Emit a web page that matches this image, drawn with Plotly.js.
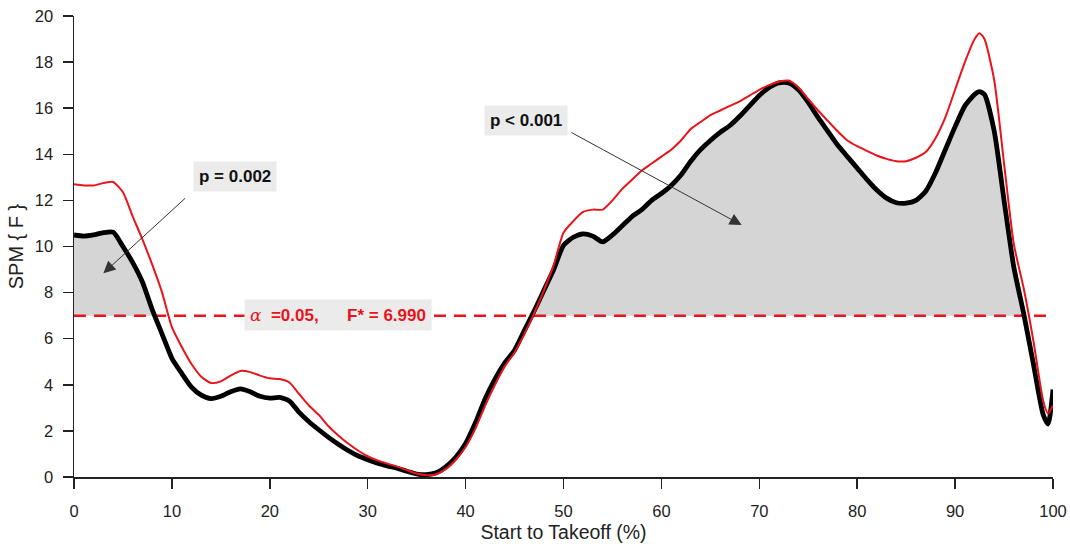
<!DOCTYPE html>
<html>
<head>
<meta charset="utf-8">
<script src="https://cdn.plot.ly/plotly-3.0.1.min.js"></script>
<style>html,body{margin:0;padding:0;background:#fff;}#chart{width:1070px;height:544px;}</style>
</head>
<body>
<div id="chart"></div>
<script>
// Time normalised, start to takeoff (%)
const xPct = [0,1,2,3,4,5,6,7,8,9,10,11,12,13,14,15,16,17,18,19,20,21,22,23,24,25,26,27,28,29,30,31,32,33,34,35,36,37,38,39,40,41,42,43,44,45,46,47,48,49,50,51,52,53,54,55,56,57,58,59,60,61,62,63,64,65,66,67,68,69,70,71,72,73,74,75,76,77,78,79,80,81,82,83,84,85,86,87,88,89,90,91,92,92.5,93,94,95,96,97,98,99,99.5,100];
// SPM{F} statistic (thick black)
const spmF = [10.5,10.45,10.5,10.6,10.62,10.0,9.3,8.45,7.25,6.2,5.15,4.5,3.9,3.55,3.4,3.5,3.7,3.82,3.7,3.5,3.42,3.45,3.3,2.8,2.4,2.05,1.72,1.42,1.15,0.92,0.75,0.6,0.48,0.38,0.25,0.13,0.1,0.18,0.45,0.85,1.45,2.35,3.4,4.25,4.95,5.5,6.35,7.2,8.1,9.0,10.05,10.4,10.55,10.45,10.2,10.5,10.9,11.3,11.6,12.0,12.3,12.65,13.1,13.7,14.2,14.6,14.95,15.25,15.65,16.1,16.55,16.9,17.1,17.1,16.8,16.25,15.6,15.0,14.4,13.9,13.4,12.9,12.45,12.1,11.9,11.88,12.0,12.4,13.2,14.2,15.2,16.1,16.6,16.72,16.6,15.0,12.0,9.1,7.1,4.9,2.7,2.3,3.8];
// Red curve
const spmRed = [12.7,12.65,12.65,12.75,12.8,12.35,11.3,10.3,9.2,8.0,6.5,5.65,4.9,4.35,4.08,4.15,4.4,4.6,4.55,4.4,4.28,4.25,4.1,3.6,3.1,2.7,2.2,1.8,1.45,1.15,0.9,0.72,0.58,0.45,0.3,0.15,0.08,0.12,0.35,0.75,1.3,2.1,3.1,4.0,4.8,5.4,6.2,7.1,8.1,9.2,10.6,11.1,11.5,11.6,11.6,12.0,12.5,12.9,13.3,13.6,13.9,14.2,14.6,15.1,15.4,15.7,15.9,16.1,16.3,16.55,16.8,17.0,17.15,17.2,16.9,16.4,15.9,15.45,15.0,14.6,14.35,14.15,13.95,13.8,13.7,13.7,13.85,14.1,14.7,15.6,16.8,18.0,19.0,19.25,19.0,17.2,13.6,10.1,8.2,5.9,3.3,2.76,3.1];
// Critical threshold
const alphaLevel = 0.05;
const fCrit = 6.990;
const thrY = 7;
const xTicks = [0,10,20,30,40,50,60,70,80,90,100];
const yTicks = [0,2,4,6,8,10,12,14,16,18,20];

// supra-threshold clusters (polygons built from spmF and threshold)
function clusters(xs, ys, t) {
  const out = [];
  let cur = null;
  for (let i = 0; i < xs.length; i++) {
    const above = ys[i] > t;
    if (i > 0) {
      const pa = ys[i-1] > t;
      if (pa !== above) {
        const xc = xs[i-1] + (t - ys[i-1]) * (xs[i] - xs[i-1]) / (ys[i] - ys[i-1]);
        if (above) { cur = {x:[xc], y:[t]}; }
        else { cur.x.push(xc); cur.y.push(t); out.push(cur); cur = null; }
      }
    } else if (above) { cur = {x:[xs[0]], y:[t]}; }
    if (above) { cur.x.push(xs[i]); cur.y.push(ys[i]); }
  }
  if (cur) { cur.x.push(xs[xs.length-1]); cur.y.push(t); out.push(cur); }
  return out;
}
const traces = [];
clusters(xPct, spmF, thrY).forEach(c => {
  traces.push({x:c.x, y:c.y, mode:'lines', fill:'toself', fillcolor:'#d5d5d5',
    line:{width:0, color:'rgba(0,0,0,0)'}, hoverinfo:'skip', showlegend:false});
});
traces.push({x:[xPct[0], xPct[xPct.length-1]], y:[thrY, thrY], mode:'lines',
  line:{color:'#e8141b', width:2.5, dash:'12px,8px'}, showlegend:false});
traces.push({x:xPct, y:spmF, mode:'lines', line:{color:'#000', width:4.8, shape:'spline', smoothing:0.6}, showlegend:false});
traces.push({x:xPct, y:spmRed, mode:'lines', line:{color:'#e8141b', width:2, shape:'spline', smoothing:0.6}, showlegend:false});

const font = 'Arial, "Liberation Sans", sans-serif';
const boxStyle = {bgcolor:'#ebebeb', borderpad:5, showarrow:false, xanchor:'center', yanchor:'middle'};
const layout = {
  width:1070, height:544,
  margin:{l:74, r:17, t:16, b:67},
  paper_bgcolor:'#fff', plot_bgcolor:'#fff',
  font:{family:font, color:'#222'},
  xaxis:{range:[0,100], tickvals:xTicks, ticktext:xTicks.map(String), showgrid:false, zeroline:false,
    showline:true, linecolor:'#222', linewidth:1.5, ticks:'outside', ticklen:10, tickwidth:1.5, tickcolor:'#222',
    ticklabelstandoff:9,
    tickfont:{size:16.5, color:'#222'}, title:{text:'Start to Takeoff (%)', font:{size:19.5, color:'#222'}, standoff:6}},
  yaxis:{range:[0,20], tickvals:yTicks, ticktext:yTicks.map(String), showgrid:false, zeroline:false,
    showline:true, linecolor:'#222', linewidth:1.5, ticks:'outside', ticklen:10, tickwidth:1.5, tickcolor:'#222',
    ticklabelstandoff:6,
    tickfont:{size:16.5, color:'#222'}, title:{text:'SPM { F }', font:{size:20, color:'#222'}, standoff:6}},
  annotations:[
    Object.assign({x:16.45, y:13.03, text:'<b>p = 0.002</b>', font:{size:17, color:'#111'}}, boxStyle),
    Object.assign({x:46.12, y:15.45, text:'<b>p < 0.001</b>', font:{size:17, color:'#111'}}, boxStyle),
    Object.assign({x:26.92, y:7.03,
      text:'<span style="font-family:\'DejaVu Serif\',serif;font-style:italic">α</span>\u00a0\u00a0<b>=' + alphaLevel.toFixed(2) + ',\u00a0\u00a0\u00a0\u00a0\u00a0\u00a0F* = ' + fCrit.toFixed(3) + '</b>',
      font:{size:17, color:'#e8141b'}}, boxStyle),
    {x:3.0, y:8.84, ax:11.5, ay:12.15, axref:'x', ayref:'y', xref:'x', yref:'y', text:'', showarrow:true,
      arrowhead:2, arrowsize:2.4, arrowwidth:1, arrowcolor:'#333', standoff:0, startstandoff:0},
    {x:68.2, y:10.93, ax:50.66, ay:14.98, axref:'x', ayref:'y', xref:'x', yref:'y', text:'', showarrow:true,
      arrowhead:2, arrowsize:2.4, arrowwidth:1, arrowcolor:'#333', standoff:0, startstandoff:0}
  ]
};
Plotly.newPlot('chart', traces, layout, {displayModeBar:false, staticPlot:true});
</script>
</body>
</html>
